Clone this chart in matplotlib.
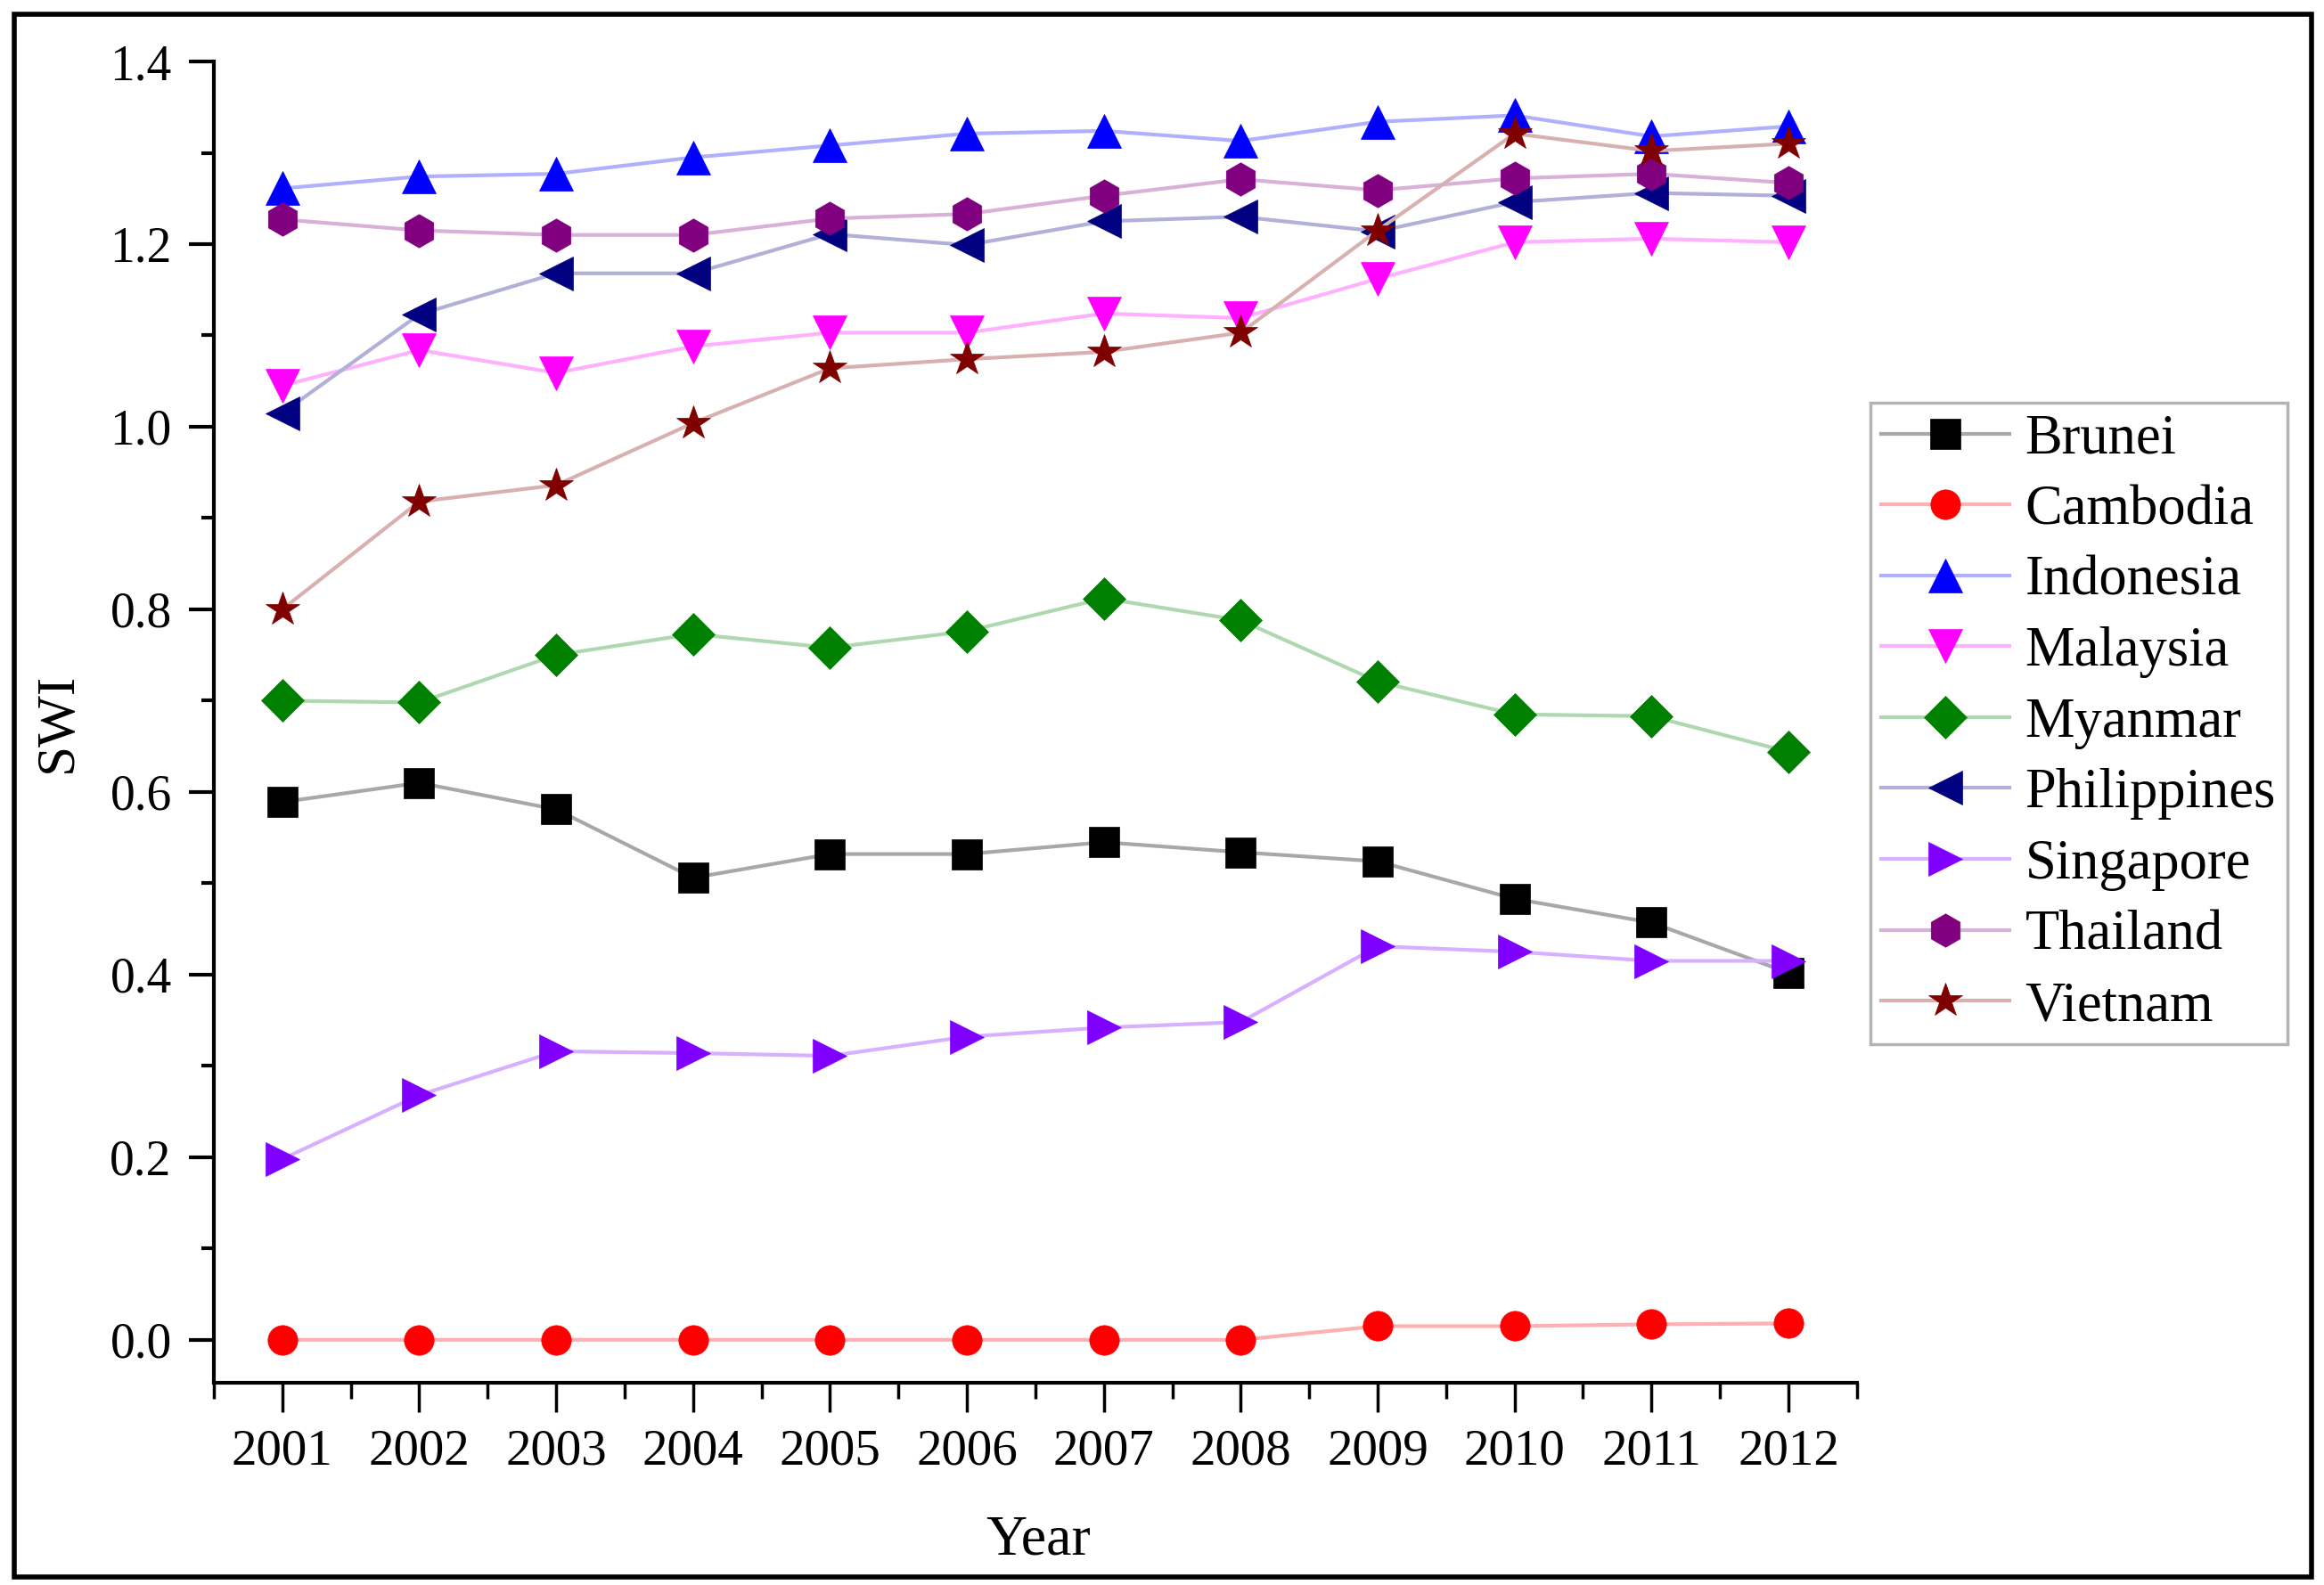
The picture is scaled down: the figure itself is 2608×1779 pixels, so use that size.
import matplotlib
matplotlib.use("Agg")
import matplotlib.pyplot as plt
from matplotlib.ticker import MultipleLocator, FormatStrFormatter
from matplotlib.patches import Rectangle

plt.rcParams['font.family'] = ['Liberation Serif', 'DejaVu Serif']

years = [2001, 2002, 2003, 2004, 2005, 2006, 2007, 2008, 2009, 2010, 2011, 2012]

brunei = [0.589, 0.610, 0.581, 0.506, 0.532, 0.532, 0.545, 0.534, 0.524, 0.483, 0.457, 0.402]
cambodia = [0.0, 0.0, 0.0, 0.0, 0.0, 0.0, 0.0, 0.0, 0.015, 0.015, 0.017, 0.018]
indonesia = [1.261, 1.274, 1.277, 1.295, 1.308, 1.321, 1.324, 1.313, 1.334, 1.341, 1.318, 1.329]
malaysia = [1.045, 1.084, 1.059, 1.088, 1.103, 1.103, 1.124, 1.119, 1.162, 1.202, 1.206, 1.202]
myanmar = [0.700, 0.698, 0.750, 0.773, 0.758, 0.776, 0.812, 0.788, 0.721, 0.685, 0.683, 0.644]
philippines = [1.015, 1.123, 1.168, 1.168, 1.211, 1.199, 1.225, 1.230, 1.214, 1.246, 1.256, 1.253]
singapore = [0.198, 0.268, 0.316, 0.314, 0.311, 0.332, 0.342, 0.348, 0.431, 0.425, 0.415, 0.415]
thailand = [1.227, 1.215, 1.210, 1.210, 1.228, 1.233, 1.253, 1.271, 1.259, 1.272, 1.277, 1.267]
vietnam = [0.800, 0.918, 0.936, 1.004, 1.064, 1.074, 1.082, 1.103, 1.215, 1.321, 1.302, 1.310]

names = ['Brunei', 'Cambodia', 'Indonesia', 'Malaysia', 'Myanmar',
         'Philippines', 'Singapore', 'Thailand', 'Vietnam']
series = [brunei, cambodia, indonesia, malaysia, myanmar,
          philippines, singapore, thailand, vietnam]
marker_colors = ['#000000', '#ff0000', '#0000ff', '#ff00ff', '#008000',
                 '#000080', '#8000ff', '#800080', '#800000']
line_colors = ['#a8a8a8', '#ffb0b0', '#b0b0ff', '#ffb0ff', '#b0d8b0',
               '#b0b0d8', '#d8b0ff', '#d8b0d8', '#d8b0b0']
markers = ['s', 'o', '^', 'v', 'D', '<', '>', 'h', '*']
sizes = [24, 24, 28, 28, 24, 28, 28, 27, 29]

fig = plt.figure(figsize=(26.08, 17.79), dpi=100)
ax = fig.add_axes([0.092, 0.1276, 0.707, 0.8336])

for name, vals, mc, lc, mk, ms in zip(names, series, marker_colors, line_colors, markers, sizes):
    ax.plot(years, vals, color=lc, lw=3, marker=mk, markersize=ms,
            markerfacecolor=mc, markeredgecolor=mc, markeredgewidth=0.5, label=name)

ax.set_xlim(2000.5, 2012.5)
ax.set_ylim(-0.047, 1.4)
ax.xaxis.set_major_locator(MultipleLocator(1))
ax.xaxis.set_minor_locator(MultipleLocator(0.5))
ax.yaxis.set_major_locator(MultipleLocator(0.2))
ax.yaxis.set_minor_locator(MultipleLocator(0.1))
ax.yaxis.set_major_formatter(FormatStrFormatter('%.1f'))

for s in ['top', 'right']:
    ax.spines[s].set_visible(False)
for s in ['left', 'bottom']:
    ax.spines[s].set_linewidth(3)

ax.tick_params(axis='x', which='major', direction='out', length=24, width=2.5, pad=13, labelsize=41)
ax.tick_params(axis='x', which='minor', direction='out', length=13, width=2.5)
ax.tick_params(axis='y', which='major', direction='out', length=20, width=3, pad=14, labelsize=40)
ax.tick_params(axis='y', which='minor', direction='out', length=10, width=3)

ax.set_xlabel('Year', fontsize=46)
ax.xaxis.set_label_coords(0.5016, -0.100)
ax.set_ylabel('SWI', fontsize=44)
ax.yaxis.set_label_coords(-0.080, 0.5)

leg = fig.legend(loc='upper left', bbox_to_anchor=(0.8048, 0.7459), fontsize=45,
                 frameon=True, fancybox=False, borderaxespad=0, borderpad=0.2,
                 labelspacing=0.345, handlelength=2.3, handletextpad=0.28)
leg.get_frame().set_edgecolor('#a0a0a0')
leg.get_frame().set_linewidth(2.5)

fig.patches.append(Rectangle((0.0061, 0.0051), 0.9885, 0.986, transform=fig.transFigure,
                             fill=False, edgecolor='black', linewidth=4))

fig.savefig('out.png', dpi=100)
